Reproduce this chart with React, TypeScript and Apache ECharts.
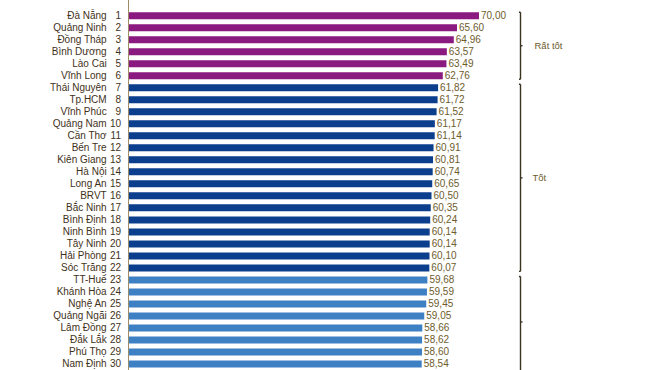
import React, { useEffect, useRef } from "react";
import * as echarts from "echarts";

const provinces = [
  "Đà Nẵng", "Quảng Ninh", "Đồng Tháp", "Bình Dương", "Lào Cai", "Vĩnh Long",
  "Thái Nguyên", "Tp.HCM", "Vĩnh Phúc", "Quảng Nam", "Cần Thơ", "Bến Tre",
  "Kiên Giang", "Hà Nội", "Long An", "BRVT", "Bắc Ninh", "Bình Định",
  "Ninh Bình", "Tây Ninh", "Hải Phòng", "Sóc Trăng", "TT-Huế", "Khánh Hòa",
  "Nghệ An", "Quảng Ngãi", "Lâm Đồng", "Đắk Lắk", "Phú Thọ", "Nam Định",
];
const ranks = [
  1, 2, 3, 4, 5, 6, 7, 8, 9, 10, 11, 12, 13, 14, 15,
  16, 17, 18, 19, 20, 21, 22, 23, 24, 25, 26, 27, 28, 29, 30,
];
const scores = [
  70.0, 65.6, 64.96, 63.57, 63.49, 62.76, 61.82, 61.72, 61.52, 61.17,
  61.14, 60.91, 60.81, 60.74, 60.65, 60.5, 60.35, 60.24, 60.14, 60.14,
  60.1, 60.07, 59.68, 59.59, 59.45, 59.05, 58.66, 58.62, 58.6, 58.54,
];
const tierLabels = ["Rất tốt", "Tốt", ""];
const tierFirst = [0, 6, 22];
const tierLast = [5, 21, 29];
const tierColors = ["#8b1a80", "#0b3e8c", "#3e80c4"];

const FONT = "'Liberation Sans', Arial, Helvetica, sans-serif";

export default function App() {
  const ref = useRef<HTMLDivElement>(null);
  useEffect(() => {
    if (!ref.current) return;
    const chart = echarts.init(ref.current, null, { renderer: "svg" });
    const tierOf = (i: number) =>
      tierFirst.findIndex((f, t) => i >= f && i <= tierLast[t]);
    chart.setOption({
      animation: false,
      backgroundColor: "#ffffff",
      grid: { left: 129, top: 9.7, width: 400, height: 362.1, containLabel: false },
      xAxis: { type: "value", min: 0, max: 80, show: false },
      yAxis: {
        type: "category",
        data: provinces,
        inverse: true,
        axisLine: { show: false },
        axisTick: { show: false },
        splitLine: { show: false },
        axisLabel: {
          interval: 0,
          hideOverlap: false,
          margin: 8,
          fontFamily: FONT,
          formatter: (v: string, i: number) => `{n|${v}} {r|${ranks[i]}}`,
          rich: {
            n: { fontSize: 10, color: "#3f321a", fontFamily: FONT },
            r: { fontSize: 10, color: "#3f321a", fontFamily: FONT, width: 11, align: "right" },
          },
        },
      },
      series: [
        {
          type: "bar",
          barWidth: 7,
          data: scores.map((s, i) => ({
            value: s,
            itemStyle: { color: tierColors[tierOf(i)] },
          })),
          label: {
            show: true,
            position: "right",
            distance: 2,
            fontSize: 10,
            fontFamily: FONT,
            color: "#6e5c2c",
            formatter: (p: any) => p.value.toFixed(2).replace(".", ","),
          },
        },
      ],
    });

    const axisX = chart.convertToPixel({ xAxisIndex: 0 }, 0) as number;
    const yOf = (i: number) =>
      chart.convertToPixel({ yAxisIndex: 0 }, provinces[i]) as number;
    const bx = 520.5;
    const lineStyle = { stroke: "#3b3322", lineWidth: 1.4 };
    const elements: any[] = [
      {
        type: "line",
        shape: { x1: axisX - 0.5, y1: 0, x2: axisX - 0.5, y2: 370 },
        style: { stroke: "#9c8c68", lineWidth: 1 },
      },
    ];
    tierFirst.forEach((f, t) => {
      const y1 = yOf(f) - 3.5;
      const y2 = t === tierFirst.length - 1 ? 380 : yOf(tierLast[t]) + 3.5;
      const ym = (yOf(f) + yOf(tierLast[t])) / 2;
      elements.push({ type: "line", shape: { x1: bx, y1, x2: bx, y2 }, style: lineStyle });
      elements.push({ type: "line", shape: { x1: bx - 1.5, y1, x2: bx, y2: y1 }, style: lineStyle });
      if (t !== tierFirst.length - 1) {
        elements.push({ type: "line", shape: { x1: bx - 1.5, y1: y2, x2: bx, y2 }, style: lineStyle });
      }
      elements.push({ type: "line", shape: { x1: bx, y1: ym, x2: bx + 2, y2: ym }, style: lineStyle });
      if (tierLabels[t]) {
        elements.push({
          type: "text",
          x: bx + (t === 0 ? 14 : 12),
          y: ym,
          style: {
            text: tierLabels[t],
            fontSize: 9.5,
            fontFamily: FONT,
            fill: "#6e5c2c",
            verticalAlign: "middle",
            align: "left",
          },
        });
      }
    });
    chart.setOption({ graphic: elements });

    return () => chart.dispose();
  }, []);
  return (
    <div
      ref={ref}
      style={{ position: "fixed", left: 0, top: 0, width: 665, height: 370, background: "#fff" }}
    />
  );
}
